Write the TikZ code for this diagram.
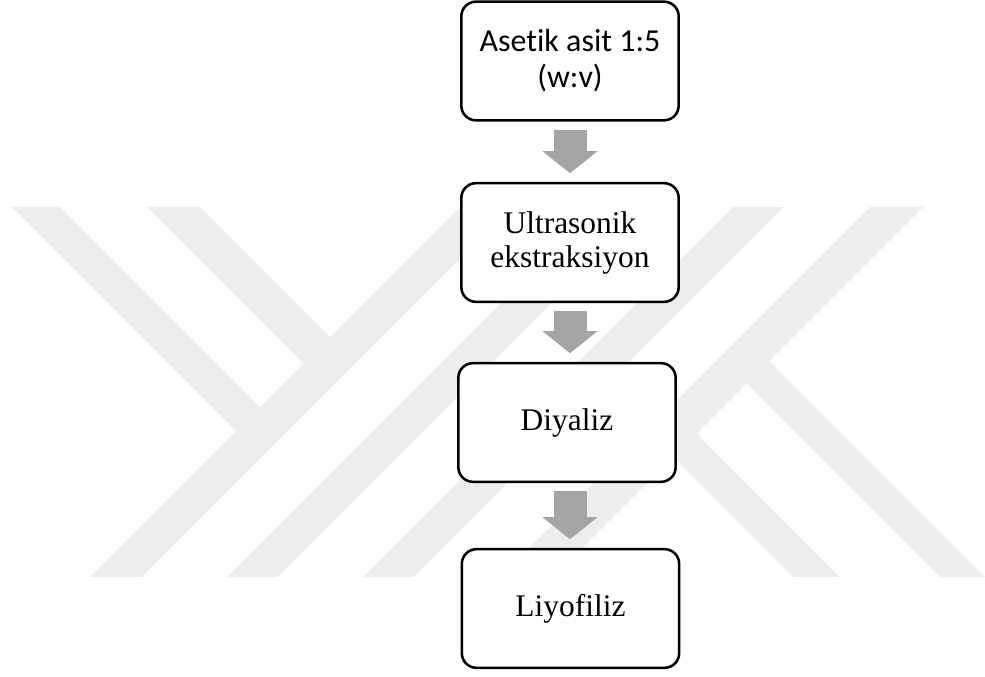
\documentclass[tikz,border=0pt]{standalone}
\usepackage{fontspec}
\setmainfont{Liberation Serif}
\newfontfamily\calibrifont[Ligatures=NoCommon]{Carlito}
\usetikzlibrary{arrows.meta}
\usetikzlibrary{positioning}
\definecolor{logogray}{RGB}{237,237,237}
\definecolor{arrowgray}{RGB}{165,165,165}

\begin{document}
\begin{tikzpicture}[x=0.75pt,y=-0.75pt,
  band/.style={fill=logogray},
  stepbox/.style={draw,line width=1.9pt,rounded corners=11pt,fill=white,
    minimum width=163pt,minimum height=89pt,align=center,inner sep=2pt,
    font=\fontsize{23.6}{25.5}\selectfont},
  flow/.style={draw=arrowgray,line width=24.75pt,
    -{Triangle[length=16.5pt,width=41.25pt,line width=0pt,fill=arrowgray]},
    shorten <=6pt,shorten >=6.5pt}]

\useasboundingbox (0,0) rectangle (985,677);

\fill[band] (460,207) -- (512,207) -- (142,577) -- (90,577) -- cycle;
\fill[band] (597,207) -- (647,207) -- (277,577) -- (227,577) -- cycle;
\fill[band] (733,207) -- (783,207) -- (413,577) -- (363,577) -- cycle;
\fill[band] (870,207) -- (923,207) -- (553,577) -- (500,577) -- cycle;
\fill[band] (12,207) -- (60,207) -- (271.5,418.5) -- (247.5,442.5) -- cycle;
\fill[band] (147,207) -- (200,207) -- (341.5,348.5) -- (315,375) -- cycle;
\fill[band] (660.5,444.5) -- (684,421) -- (840,577) -- (793,577) -- cycle;
\fill[band] (734,371) -- (756.5,348.5) -- (985,577) -- (940,577) -- cycle;

\node [stepbox,font=\calibrifont\fontsize{24}{27}\selectfont] (asit) at (570,61) {Asetik asit 1:5\\(w:v)};
\node [stepbox] (ultra) at (570,242.5) {Ultrasonik\\ekstraksiyon};
\node [stepbox] (diyaliz) at (567,422.5) {Diyaliz};
\node [stepbox] (liyo) at (570.5,608.5) {Liyofiliz};

\draw [flow] (asit.south) -- (ultra.north);
\draw [flow] (ultra.south) -- (ultra.south |- diyaliz.north);
\draw [flow] (diyaliz.south -| ultra.south) -- (liyo.north -| ultra.south);

\end{tikzpicture}
\end{document}
